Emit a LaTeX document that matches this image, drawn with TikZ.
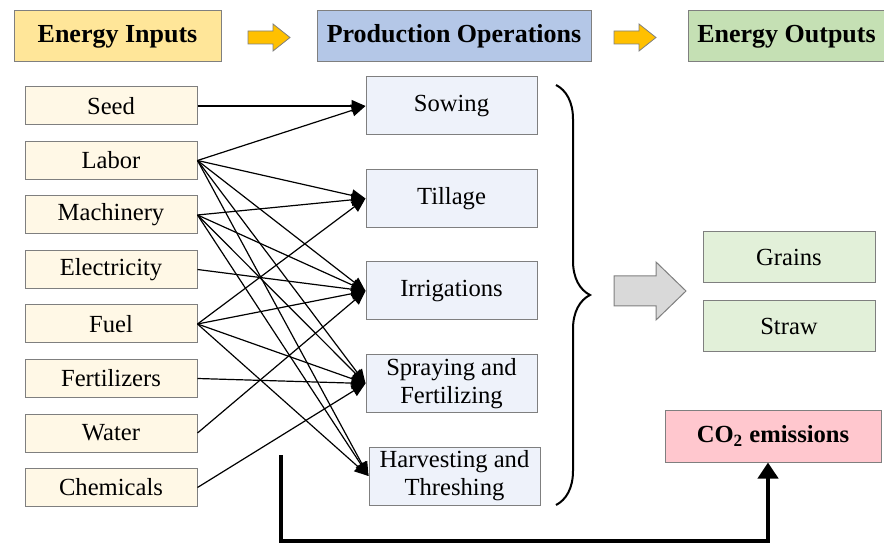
\documentclass[tikz,border=0pt]{standalone}
\usepackage{fontspec}
\setmainfont{Liberation Serif}
\usetikzlibrary{positioning,arrows.meta,decorations.pathreplacing}
\definecolor{hdrYellow}{RGB}{255,230,153}
\definecolor{hdrBlue}{RGB}{180,199,231}
\definecolor{hdrGreen}{RGB}{197,224,180}
\definecolor{inFill}{RGB}{255,248,230}
\definecolor{opFill}{RGB}{238,242,250}
\definecolor{outFill}{RGB}{226,240,217}
\definecolor{co2Fill}{RGB}{255,199,206}
\definecolor{boxGray}{RGB}{127,127,127}
\definecolor{arrowGold}{RGB}{255,192,0}
\definecolor{arrowGray}{RGB}{217,217,217}

\begin{document}
\begin{tikzpicture}[x=0.5pt, y=-0.5pt,
    header/.style={draw=boxGray, line width=0.5pt, minimum height=25.5pt,
      font=\bfseries\fontsize{13}{15}\selectfont},
    inbox/.style={draw=boxGray, fill=inFill, line width=0.5pt,
      minimum width=86pt, minimum height=19pt, font=\fontsize{12.3}{14}\selectfont},
    opbox/.style={draw=boxGray, fill=opFill, line width=0.5pt, align=center, inner ysep=1pt,
      minimum width=85.5pt, minimum height=29pt, font=\fontsize{12.3}{14}\selectfont},
    outbox/.style={draw=boxGray, fill=outFill, line width=0.5pt,
      minimum width=86pt, minimum height=25.5pt, font=\fontsize{12.3}{14}\selectfont},
    blockarrow/.style={fill=arrowGold, draw=boxGray, line width=0.4pt},
    link/.style={-{Triangle[length=7pt,width=6pt]}, line width=0.6pt}
  ]
    \useasboundingbox (0,0) rectangle (884,545);

    % headers
    \node[header, fill=hdrYellow, minimum width=103.5pt] (hin) at (117.5,36.5) {Energy Inputs};
    \node[header, fill=hdrBlue, minimum width=137pt, right=47.5pt of hin] (hop) {Production Operations};
    \node[header, fill=hdrGreen, minimum width=98.5pt, right=48pt of hop] (hout) {Energy Outputs};
    \draw[blockarrow] (248,31) -- (273,31) -- (273,24) -- (290,37.5) -- (273,51) -- (273,44) -- (248,44) -- cycle;
    \draw[blockarrow] (614,31) -- (639,31) -- (639,24) -- (656,37.5) -- (639,51) -- (639,44) -- (614,44) -- cycle;

    % inputs
    \node[inbox] (seed) at (111,106) {Seed};
    \node[inbox, below=7.75pt of seed] (labor) {Labor};
    \node[inbox, below=7.75pt of labor] (mach) {Machinery};
    \node[inbox, below=7.75pt of mach] (elec) {Electricity};
    \node[inbox, below=7.75pt of elec] (fuel) {Fuel};
    \node[inbox, below=7.75pt of fuel] (fert) {Fertilizers};
    \node[inbox, below=7.75pt of fert] (water) {Water};
    \node[inbox, below=7.75pt of water] (chem) {Chemicals};

    % operations
    \node[opbox] (sowing) at (451.5,106) {Sowing};
    \node[opbox, below=16.75pt of sowing] (tillage) {Tillage};
    \node[opbox, below=16.75pt of tillage] (irrig) {Irrigations};
    \node[opbox, below=16.75pt of irrig] (spray) {Spraying and\\Fertilizing};
    \node[opbox, below=16.75pt of spray, xshift=1.5pt] (harvest) {Harvesting and\\Threshing};

    % outputs
    \node[outbox] (grains) at (789,257.5) {Grains};
    \node[outbox, below=8.5pt of grains] (straw) {Straw};
    \node[draw=boxGray, fill=co2Fill, line width=0.5pt, minimum width=108pt, minimum height=26pt,
      font=\bfseries\fontsize{12.3}{14}\selectfont] (co2) at (773,436) {CO\textsubscript{2} emissions};

    \draw[link] (seed.east) -- (sowing.west);
    \foreach \op in {sowing,tillage,irrig,spray,harvest}
      \draw[link] (labor.east) -- (\op.west);
    \foreach \op in {tillage,irrig,spray,harvest}
      \draw[link] (mach.east) -- (\op.west);
    \draw[link] (elec.east) -- (irrig.west);
    \foreach \op in {tillage,irrig,spray,harvest}
      \draw[link] (fuel.east) -- (\op.west);
    \draw[link] (fert.east) -- (spray.west);
    \draw[link] (water.east) -- (irrig.west);
    \draw[link] (chem.east) -- (spray.west);

    \draw[decorate, decoration={brace, amplitude=17pt}, line width=1pt] (556,85) -- (556,505);
    \draw[fill=arrowGray, draw=boxGray, line width=0.5pt] (614,276) -- (656,276) -- (656,262)
      -- (686,291) -- (656,320) -- (656,306) -- (614,306) -- cycle;

    \coordinate (emit) at (281,455);
    \draw[line width=2pt, -{Triangle[length=8pt,width=10pt]}] (emit) -- ++(0,86) -| ([xshift=-2.5pt]co2.south);
  \end{tikzpicture}
\end{document}
